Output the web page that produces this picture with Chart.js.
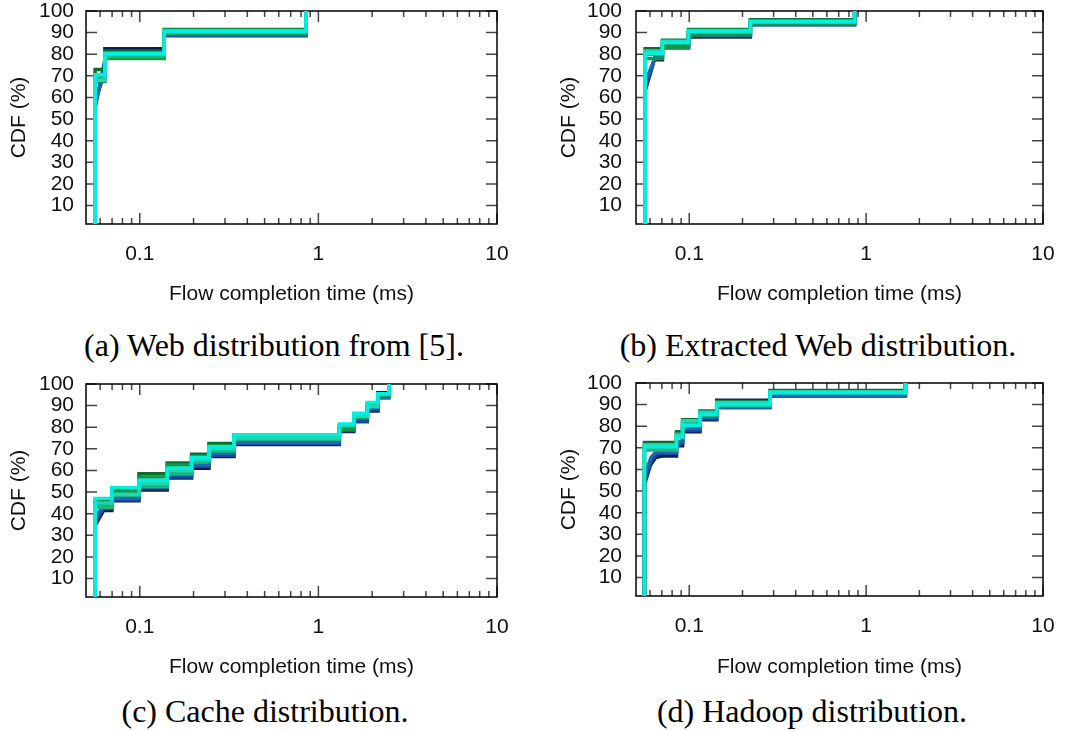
<!DOCTYPE html>
<html>
<head>
<meta charset="utf-8">
<script src="https://cdn.jsdelivr.net/npm/chart.js@4.4.1/dist/chart.umd.min.js"></script>
<style>
  html, body { margin: 0; padding: 0; background: #fff; }
  #page { position: relative; width: 1073px; height: 731px; overflow: hidden; }
  #page canvas { position: absolute; }
  .caption {
    position: absolute;
    font: 32px 'Liberation Serif', 'Times New Roman', serif;
    color: #000;
    white-space: nowrap;
    line-height: 1;
    transform: translate(-50%, -50%);
  }
</style>
</head>
<body>
<div id="page">
  <canvas id="web" width="530" height="310" style="left:0;top:0"></canvas>
  <canvas id="extracted" width="533" height="310" style="left:540px;top:0"></canvas>
  <canvas id="cache" width="530" height="310" style="left:0;top:370px"></canvas>
  <canvas id="hadoop" width="533" height="310" style="left:540px;top:370px"></canvas>
  <div class="caption" style="left:274px;top:345px">(a) Web distribution from [5].</div>
  <div class="caption" style="left:818px;top:345px">(b) Extracted Web distribution.</div>
  <div class="caption" style="left:265px;top:711px">(c) Cache distribution.</div>
  <div class="caption" style="left:812px;top:711px">(d) Hadoop distribution.</div>
</div>
<script>
// axis ticks shared by all four plots
const cdfTicks = [10, 20, 30, 40, 50, 60, 70, 80, 90, 100];
const timeMajor = [0.1, 1, 10];
const timeMinor = [0.06, 0.07, 0.08, 0.09, 0.2, 0.3, 0.4, 0.5, 0.6, 0.7, 0.8, 0.9, 2, 3, 4, 5, 6, 7, 8, 9];

// one colour per run, first run dark blue, last run cyan (drawn on top)
const runColors = ['#0b1e55', '#15479a', '#2166b4', '#0a6e30', '#0f9848', '#16b880', '#1fd5b2', '#00f0e0'];

// (a) Web distribution from [5]: step times (ms) and CDF level (%) after each step
const webSteps = [0.0562, 0.0638, 0.137, 0.853];
const webLevels = [
  [72, 82.5, 89, 100],
  [77.5, 78.5, 88.5, 100],
  [76, 79.5, 89, 100],
  [73, 81.5, 91.5, 100],
  [67.5, 78, 89.5, 100],
  [69, 79, 90, 100],
  [68, 80, 91, 100],
  [70.5, 80.5, 90.5, 100]
];
// runs whose first jump is spread out instead of a single step
const webRamps = [[[0.0562, 58]], [[0.0562, 55]], [[0.0562, 57], [0.0618, 70]], null, null, null, null, null];

// (b) Extracted Web distribution
const extSteps = [0.0563, 0.0705, 0.099, 0.2216, 0.861];
const extLevels = [
  [77.5, 83, 88, 94, 100],
  [78.5, 84, 88.5, 94.5, 100],
  [79, 83.5, 89, 93.5, 100],
  [82.5, 86.5, 91.5, 96, 100],
  [78, 83, 89, 94, 100],
  [80, 85, 90.5, 95.5, 100],
  [81.5, 86, 91, 95, 100],
  [80.5, 85.5, 90.5, 95, 100]
];
const extRamps = [[[0.0563, 63], [0.0635, 77.5]], [[0.0563, 65], [0.064, 78.5]], [[0.0563, 67], [0.0645, 79]], null, null, null, null, null];

// (c) Cache distribution
const cacheSteps = [0.0562, 0.0698, 0.099, 0.1424, 0.195, 0.244, 0.337, 1.31, 1.578, 1.88, 2.155, 2.48];
const cacheLevels = [
  [41.5, 46, 51, 56.5, 61, 66.5, 72, 78, 83, 87.5, 96, 100],
  [42.5, 46.5, 52, 57, 62, 67, 72.5, 78.5, 82.5, 88, 94, 100],
  [43, 47, 53, 58, 62.5, 68, 73, 79, 84, 89, 93.5, 100],
  [46, 51.5, 58.5, 63.5, 67.5, 72.5, 76.5, 80, 85.5, 90, 95, 100],
  [44.5, 50, 57, 62.5, 66.5, 71.5, 75.5, 79, 84.5, 90.5, 94.5, 100],
  [43, 48.5, 52.5, 58.5, 64, 69, 74.5, 80.5, 86, 91, 95, 100],
  [45, 49, 54, 60, 65, 70, 75, 81, 85, 89.5, 95.5, 100],
  [47, 52, 55.5, 61, 66, 71, 76.5, 81.5, 86.5, 91.5, 95.5, 100]
];
const cacheRamps = [[[0.0562, 34.5], [0.0628, 41.5]], [[0.0562, 36.5], [0.0632, 42.5]], [[0.0562, 38.5], [0.062, 43]], null, null, null, null, null];

// (d) Hadoop distribution
const hadoopSteps = [0.0558, 0.0847, 0.0917, 0.115, 0.143, 0.2866, 1.667];
const hadoopLevels = [
  [66.2, 71, 77.5, 83, 92, 94, 100],
  [67.5, 72, 78, 83.5, 89, 94.5, 100],
  [68, 73, 79, 84, 88.5, 94, 100],
  [72.5, 77.5, 83, 87, 91.5, 96.5, 100],
  [70.5, 76.5, 82, 86, 90.5, 96, 100],
  [69, 75, 81, 85, 89.5, 95.5, 100],
  [71.5, 76, 82.5, 86.5, 91, 96, 100],
  [70.5, 75, 80.5, 85.5, 90, 95.5, 100]
];
const hadoopRamps = [
  [[0.0558, 53], [0.0603, 62], [0.0645, 65.5], [0.07, 66.2]],
  [[0.0558, 55], [0.0615, 64.5], [0.0665, 67.5]],
  [[0.0558, 57], [0.0607, 65.5], [0.0645, 68]],
  null, null, null, null, null
];

const axisFont = { family: "'Liberation Sans', Arial, sans-serif", size: 21 };
const textColor = '#111';

// turn step times + levels into the vertices of a CDF line
function cdfPoints(steps, levels, ramp) {
  const pts = [{ x: steps[0], y: 0 }];
  if (ramp) ramp.forEach(([x, y]) => pts.push({ x, y }));
  else pts.push({ x: steps[0], y: levels[0] });
  for (let i = 1; i < steps.length; i++) {
    pts.push({ x: steps[i], y: levels[i - 1] });
    pts.push({ x: steps[i], y: levels[i] });
  }
  return pts;
}

// gnuplot-like box with inward ticks on all four sides
const boxTicks = {
  id: 'boxTicks',
  beforeDatasetsDraw(chart) {
    const { ctx, chartArea: a, scales: { x, y } } = chart;
    ctx.save();
    ctx.lineWidth = 1.5;
    ctx.strokeStyle = '#444';
    ctx.beginPath();
    cdfTicks.forEach(v => {
      const py = y.getPixelForValue(v);
      ctx.moveTo(a.left, py); ctx.lineTo(a.left + 11, py);
      ctx.moveTo(a.right, py); ctx.lineTo(a.right - 11, py);
    });
    const xTick = (v, len) => {
      const px = x.getPixelForValue(v);
      ctx.moveTo(px, a.bottom); ctx.lineTo(px, a.bottom - len);
      ctx.moveTo(px, a.top); ctx.lineTo(px, a.top + len);
    };
    timeMajor.forEach(v => xTick(v, 11));
    timeMinor.forEach(v => xTick(v, 6));
    ctx.stroke();
    ctx.strokeStyle = '#000';
    ctx.strokeRect(a.left, a.top, a.right - a.left, a.bottom - a.top);
    ctx.restore();
  }
};

function drawCdf(id, steps, levels, ramps, box) {
  return new Chart(document.getElementById(id), {
    type: 'line',
    data: {
      datasets: levels.map((lv, i) => ({
        data: cdfPoints(steps, lv, ramps[i]),
        borderColor: runColors[i],
        borderWidth: 3.5,
        pointRadius: 0,
        fill: false,
        tension: 0,
        order: levels.length - i
      }))
    },
    options: {
      responsive: false,
      animation: false,
      devicePixelRatio: 1,
      layout: { padding: { top: box.top, right: box.right, bottom: 0, left: 0 } },
      plugins: { legend: { display: false }, tooltip: { enabled: false } },
      scales: {
        x: {
          type: 'logarithmic',
          min: 0.05,
          max: 10,
          grid: { display: false, drawTicks: false },
          border: { display: false },
          afterBuildTicks: s => { s.ticks = timeMajor.map(v => ({ value: v })); },
          afterFit: s => { s.height = box.xh; s.paddingLeft = 0; s.paddingRight = 0; },
          ticks: { padding: 18, autoSkip: false, maxRotation: 0, font: axisFont, color: textColor, callback: v => String(v) },
          title: { display: true, text: 'Flow completion time (ms)', font: axisFont, color: textColor, padding: { top: 0, bottom: box.titleBottom } }
        },
        y: {
          min: 1.5,
          max: 100,
          grid: { display: false, drawTicks: false },
          border: { display: false },
          afterBuildTicks: s => { s.ticks = cdfTicks.map(v => ({ value: v })); },
          afterFit: s => { s.width = box.yw; s.paddingTop = 0; s.paddingBottom = 0; },
          ticks: { padding: box.tickPad, autoSkip: false, font: axisFont, color: textColor },
          title: { display: true, text: 'CDF (%)', font: axisFont, color: textColor, padding: { top: box.titlePad, bottom: 0 } }
        }
      }
    },
    plugins: [boxTicks]
  });
}

drawCdf('web', webSteps, webLevels, webRamps, { top: 11, right: 33, xh: 86, yw: 86, tickPad: 12, titlePad: 7, titleBottom: 3 });
drawCdf('extracted', extSteps, extLevels, extRamps, { top: 11, right: 30, xh: 86, yw: 96, tickPad: 14, titlePad: 17, titleBottom: 3 });
drawCdf('cache', cacheSteps, cacheLevels, cacheRamps, { top: 14, right: 33, xh: 83, yw: 86, tickPad: 12, titlePad: 7, titleBottom: 0 });
drawCdf('hadoop', hadoopSteps, hadoopLevels, hadoopRamps, { top: 13, right: 30, xh: 84, yw: 96, tickPad: 14, titlePad: 17, titleBottom: 0 });
</script>
</body>
</html>
